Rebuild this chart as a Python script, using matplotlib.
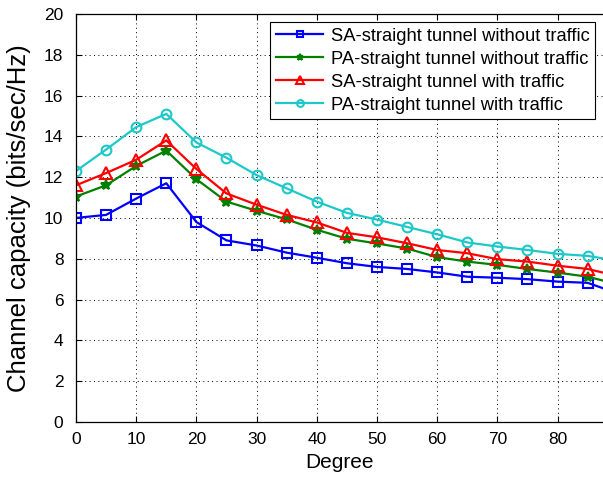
import numpy as np
import matplotlib
matplotlib.use("Agg")
import matplotlib.pyplot as plt

plt.rcParams['font.family'] = ['Liberation Sans', 'DejaVu Sans']

degree = list(range(0, 95, 5))

sa_no_traffic = [10.0, 10.15, 10.95, 11.7, 9.8, 8.9, 8.65, 8.3, 8.05, 7.78, 7.6, 7.5, 7.33,
                 7.12, 7.07, 7.0, 6.88, 6.82, 6.3]
pa_no_traffic = [11.05, 11.6, 12.55, 13.3, 11.9, 10.8, 10.35, 9.93, 9.42, 8.98, 8.75, 8.5, 8.08,
                 7.86, 7.7, 7.5, 7.32, 7.12, 6.75]
sa_traffic = [11.6, 12.2, 12.85, 13.8, 12.4, 11.2, 10.65, 10.15, 9.78, 9.27, 9.05, 8.76, 8.43,
              8.27, 7.98, 7.86, 7.66, 7.5, 7.15]
pa_traffic = [12.3, 13.35, 14.45, 15.1, 13.7, 12.95, 12.1, 11.45, 10.8, 10.25, 9.92, 9.56, 9.2,
              8.8, 8.6, 8.43, 8.24, 8.14, 7.9]

series = [
    ("SA-straight tunnel without traffic", sa_no_traffic, "#0000ff", "s", 7),
    ("PA-straight tunnel without traffic", pa_no_traffic, "#008000", "*", 7),
    ("SA-straight tunnel with traffic", sa_traffic, "#ff0000", "^", 8),
    ("PA-straight tunnel with traffic", pa_traffic, "#1ec8c8", "o", 7),
]

fig = plt.figure(figsize=(6.03, 4.79), dpi=100)
ax = fig.add_axes([0.126, 0.119, 0.8985, 0.852])

for label, vals, color, marker, ms in series:
    ax.plot(degree, vals, color=color, linewidth=1.6, marker=marker, markersize=ms,
            markerfacecolor='none' if marker != '*' else color,
            markeredgecolor=color, markeredgewidth=1.5, label=label)

ax.set_xlim(0, 90)
ax.set_ylim(0, 20)
ax.set_xticks(range(0, 90, 10))
ax.set_yticks(range(0, 21, 2))
ax.tick_params(direction='in', length=4, top=True, right=True, labelsize=12.5, width=0.8)
ax.tick_params(axis='y', pad=9)
ax.tick_params(axis='x', pad=7)
ax.grid(True, color='k', linestyle=(0, (1, 3.5)), linewidth=0.7)
for s in ax.spines.values():
    s.set_linewidth(0.9)

ax.set_xlabel("Degree", fontsize=15)
ax.xaxis.set_label_coords(0.486, -0.076)
ax.set_ylabel("Channel capacity (bits/sec/Hz)", fontsize=18.5)
ax.yaxis.set_label_coords(-0.083, 0.5)

leg = ax.legend(loc='upper right', bbox_to_anchor=(0.958, 0.980), borderaxespad=0,
                fontsize=13.2, numpoints=1, handlelength=2.6, markerscale=0.7,
                fancybox=False, framealpha=1, edgecolor='k', borderpad=0.3,
                labelspacing=0.33, handletextpad=0.4)
leg.get_frame().set_linewidth(0.8)

fig.savefig("out.png", dpi=100)
